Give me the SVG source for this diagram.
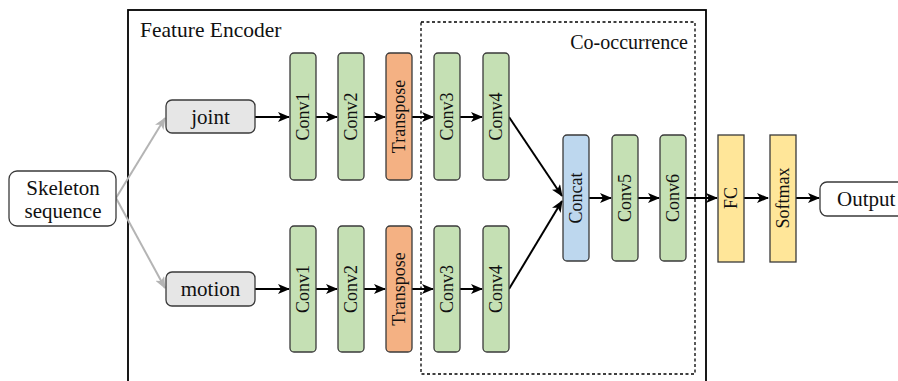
<svg xmlns="http://www.w3.org/2000/svg" width="898" height="381" viewBox="0 0 898 381">
<defs>
<style>
text{font-family:"Liberation Serif","Times New Roman",serif;fill:#111;}
.lbl{font-size:21px;text-anchor:middle;}
.vt{font-size:18px;text-anchor:middle;dominant-baseline:central;}
.blk{stroke:#3a3a3a;stroke-width:1.3;}
.g{fill:#c5e0b4;}
.o{fill:#f4b183;}
.b{fill:#bdd7ee;}
.y{fill:#ffe699;}
.gr{fill:#e6e6e6;}
.w{fill:#ffffff;}
.c{stroke:#000;stroke-width:2;fill:none;marker-end:url(#ah);}
.cg{stroke:#b4b4b4;stroke-width:2;fill:none;marker-end:url(#ahg);}
</style>
<marker id="ah" viewBox="0 0 12 10" refX="11" refY="5" markerWidth="6" markerHeight="5" markerUnits="strokeWidth" orient="auto">
<path d="M0,0 L12,5 L0,10 L3,5 z" fill="#000"/>
</marker>
<marker id="ahg" viewBox="0 0 12 10" refX="11" refY="5" markerWidth="6" markerHeight="5" markerUnits="strokeWidth" orient="auto">
<path d="M0,0 L12,5 L0,10 L3,5 z" fill="#b4b4b4"/>
</marker>
</defs>
<rect width="898" height="381" fill="#fff"/>
<g id="feature-encoder">
<rect x="128" y="10" width="578" height="390" fill="none" stroke="#000" stroke-width="1.8"/>
<text x="140" y="37" style="font-size:21.5px">Feature Encoder</text>
</g>
<g id="co-occurrence">
<rect x="421" y="22" width="274" height="352" fill="none" stroke="#000" stroke-width="1.3" stroke-dasharray="3,2.5"/>
<text x="688" y="49" style="font-size:20px;text-anchor:end">Co-occurrence</text>
</g>
<g id="connectors">
<line class="cg" x1="116" y1="198" x2="165" y2="118"/>
<line class="cg" x1="116" y1="198" x2="165" y2="288"/>
<line class="c" x1="255" y1="117" x2="289" y2="117"/>
<line class="c" x1="316" y1="117" x2="337" y2="117"/>
<line class="c" x1="364" y1="117" x2="385" y2="117"/>
<line class="c" x1="412" y1="117" x2="433" y2="117"/>
<line class="c" x1="460" y1="117" x2="482" y2="117"/>
<line class="c" x1="255" y1="289" x2="289" y2="289"/>
<line class="c" x1="316" y1="289" x2="337" y2="289"/>
<line class="c" x1="364" y1="289" x2="385" y2="289"/>
<line class="c" x1="412" y1="289" x2="433" y2="289"/>
<line class="c" x1="460" y1="289" x2="482" y2="289"/>
<line class="c" x1="509" y1="117" x2="562" y2="196"/>
<line class="c" x1="509" y1="289" x2="562" y2="201"/>
<line class="c" x1="589" y1="198" x2="611" y2="198"/>
<line class="c" x1="638" y1="198" x2="659" y2="198"/>
<line class="c" x1="686" y1="198" x2="717" y2="198"/>
<line class="c" x1="744" y1="198" x2="768" y2="198"/>
<line class="c" x1="796" y1="198" x2="819" y2="198"/>
</g>
<g id="skeleton">
<rect class="blk w" x="9" y="171" width="107" height="55" rx="8"/>
<text class="lbl" x="63" y="195">Skeleton</text>
<text class="lbl" x="63" y="218">sequence</text>
</g>
<g id="joint">
<rect class="blk gr" x="166" y="100" width="89" height="33" rx="6"/>
<text class="lbl" x="210.5" y="124">joint</text>
</g>
<g id="motion">
<rect class="blk gr" x="166" y="272" width="89" height="34" rx="6"/>
<text class="lbl" x="210.5" y="296">motion</text>
</g>
<g id="conv1-top"><rect class="blk g" x="290" y="53" width="26" height="127" rx="4"/><text class="vt" transform="translate(303,116.5) rotate(-90)">Conv1</text></g>
<g id="conv2-top"><rect class="blk g" x="338" y="53" width="26" height="127" rx="4"/><text class="vt" transform="translate(351,116.5) rotate(-90)">Conv2</text></g>
<g id="transpose-top"><rect class="blk o" x="386" y="53" width="26" height="127" rx="4"/><text class="vt" transform="translate(399,116.5) rotate(-90)">Transpose</text></g>
<g id="conv3-top"><rect class="blk g" x="434" y="53" width="26" height="127" rx="4"/><text class="vt" transform="translate(447,116.5) rotate(-90)">Conv3</text></g>
<g id="conv4-top"><rect class="blk g" x="483" y="53" width="26" height="127" rx="4"/><text class="vt" transform="translate(496,116.5) rotate(-90)">Conv4</text></g>
<g id="conv1-bot"><rect class="blk g" x="290" y="226" width="26" height="126" rx="4"/><text class="vt" transform="translate(303,289) rotate(-90)">Conv1</text></g>
<g id="conv2-bot"><rect class="blk g" x="338" y="226" width="26" height="126" rx="4"/><text class="vt" transform="translate(351,289) rotate(-90)">Conv2</text></g>
<g id="transpose-bot"><rect class="blk o" x="386" y="226" width="26" height="126" rx="4"/><text class="vt" transform="translate(399,289) rotate(-90)">Transpose</text></g>
<g id="conv3-bot"><rect class="blk g" x="434" y="226" width="26" height="126" rx="4"/><text class="vt" transform="translate(447,289) rotate(-90)">Conv3</text></g>
<g id="conv4-bot"><rect class="blk g" x="483" y="226" width="26" height="126" rx="4"/><text class="vt" transform="translate(496,289) rotate(-90)">Conv4</text></g>
<g id="concat"><rect class="blk b" x="563" y="135" width="26" height="126" rx="4"/><text class="vt" transform="translate(576,198) rotate(-90)">Concat</text></g>
<g id="conv5"><rect class="blk g" x="612" y="135" width="26" height="126" rx="4"/><text class="vt" transform="translate(625,198) rotate(-90)">Conv5</text></g>
<g id="conv6"><rect class="blk g" x="660" y="135" width="26" height="126" rx="4"/><text class="vt" transform="translate(673,198) rotate(-90)">Conv6</text></g>
<g id="fc"><rect class="blk y" x="718" y="135" width="26" height="127"/><text class="vt" transform="translate(731,198) rotate(-90)">FC</text></g>
<g id="softmax"><rect class="blk y" x="770" y="135" width="26" height="127"/><text class="vt" transform="translate(783,198) rotate(-90)">Softmax</text></g>
<g id="output">
<rect class="blk w" x="820" y="182" width="90" height="34" rx="7"/>
<text x="837" y="206" style="font-size:21px">Output</text>
</g>
</svg>
